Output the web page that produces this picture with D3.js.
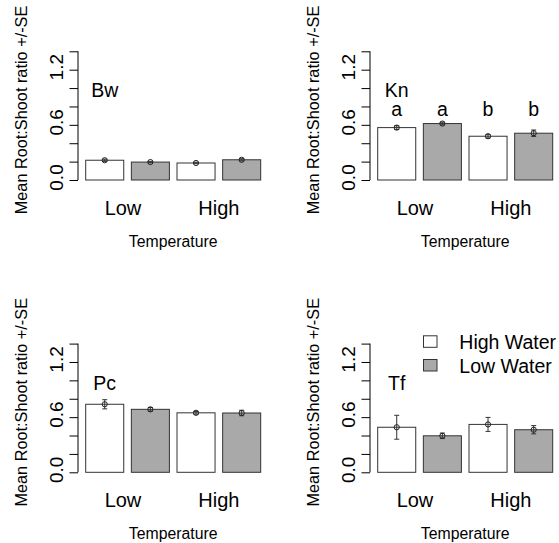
<!DOCTYPE html>
<html>
<head>
<meta charset="utf-8">
<script src="https://cdn.jsdelivr.net/npm/d3@7"></script>
<style>
    body { margin: 0; background: #fff; }
    svg { font-family: "Liberation Sans", Arial, sans-serif; }
    .y-axis path, .y-axis line { stroke: #000; }
    .bar { stroke: #333; stroke-width: 1; }
    .err { stroke: #333; stroke-width: 1; fill: none; }
</style>
</head>
<body>
<svg id="chart" width="559" height="543"></svg>
<script>
// Data
var species = ["Bw", "Kn", "Pc", "Tf"];
var tempLevels = ["Low", "High"];
var tempLabelAt = [1.18, 3.7];          // bar units, as in barplot
var waterLevels = ["High Water", "Low Water"];

var bwMeans = [0.215, 0.195, 0.185, 0.22];
var bwSE    = [0.012, 0.008, 0.008, 0.012];
var knMeans = [0.57, 0.614, 0.476, 0.509];
var knSE    = [0.02, 0.015, 0.02, 0.035];
var pcMeans = [0.74, 0.685, 0.647, 0.645];
var pcSE    = [0.05, 0.02, 0.015, 0.03];
var tfMeans = [0.49, 0.397, 0.521, 0.463];
var tfSE    = [0.13, 0.03, 0.076, 0.045];

var knLetters = ["a", "a", "b", "b"];

var yTicks = [0, 0.2, 0.4, 0.6, 0.8, 1.0, 1.2, 1.4];
var yTickLabels = ["0.0", "", "", "0.6", "", "", "1.2", ""];

// Layout
var panel_dx = 292;
var panel_dy = 292.3;
var axis_x = 78;
var plot_top = 51.3;
var plot_bot = 180;
var bars_left = 85.7;
var bars_right = 260.7;

var fills = ["#ffffff", "#a9a9a9"];

var svg = d3.select("#chart");

var y = d3.scaleLinear().domain([0, 1.4]).range([plot_bot, plot_top]);
// R barplot units: bars of width 1 with 0.2 space
var xu = d3.scaleLinear().domain([0.2, 4.8]).range([bars_left, bars_right]);
var x = d3.scaleBand()
    .domain([0, 1, 2, 3])
    .range([bars_left, bars_right])
    .paddingInner(0.2 / 1.2)
    .paddingOuter(0);

var panels = [
    {name: species[0], means: bwMeans, se: bwSE, letters: null},
    {name: species[1], means: knMeans, se: knSE, letters: knLetters},
    {name: species[2], means: pcMeans, se: pcSE, letters: null},
    {name: species[3], means: tfMeans, se: tfSE, letters: null}
];

/**
 * Draws one bar panel.
 *
 * @param p    the panel data
 * @param idx  position in the 2x2 grid
 */
function drawPanel(p, idx)
{
    var g = svg.append("g")
        .attr("transform", "translate(" + (idx % 2) * panel_dx + "," + Math.floor(idx / 2) * panel_dy + ")");

    var rows = p.means.map((m, i) => ({m: m, se: p.se[i], i: i}));

    // Bars
    g.selectAll(".bar")
        .data(rows)
        .enter()
        .append("rect")
        .attr("class", "bar")
        .attr("x", d => x(d.i))
        .attr("width", x.bandwidth())
        .attr("y", d => y(d.m))
        .attr("height", d => y(0) - y(d.m))
        .attr("fill", d => fills[d.i % 2]);

    // Error bars
    var cap = 2.5;
    var e = g.selectAll(".errg").data(rows).enter().append("g").attr("class", "err");
    var cx = d => x(d.i) + x.bandwidth() / 2;
    e.append("line")
        .attr("x1", cx).attr("x2", cx)
        .attr("y1", d => y(d.m - d.se)).attr("y2", d => y(d.m + d.se));
    e.append("line")
        .attr("x1", d => cx(d) - cap).attr("x2", d => cx(d) + cap)
        .attr("y1", d => y(d.m + d.se)).attr("y2", d => y(d.m + d.se));
    e.append("line")
        .attr("x1", d => cx(d) - cap).attr("x2", d => cx(d) + cap)
        .attr("y1", d => y(d.m - d.se)).attr("y2", d => y(d.m - d.se));
    e.append("circle")
        .attr("cx", cx)
        .attr("cy", d => y(d.m))
        .attr("r", 2.6)
        .attr("stroke", "#222");

    // Y axis
    var ax = g.append("g")
        .attr("class", "y-axis")
        .attr("transform", "translate(" + axis_x + ",0)")
        .call(d3.axisLeft(y)
            .tickValues(yTicks)
            .tickSize(8.5)
            .tickSizeOuter(0)
            .tickFormat((d, i) => yTickLabels[i]));
    ax.select(".domain").attr("d", "M0," + y(0) + "V" + y(1.4));
    ax.selectAll("text")
        .attr("x", null)
        .attr("dy", null)
        .attr("fill", "#000")
        .attr("font-size", 19)
        .attr("font-family", null)
        .attr("text-anchor", "middle")
        .attr("transform", "translate(-15,-3) rotate(-90)");

    g.append("text")
        .attr("transform", "translate(27,110) rotate(-90)")
        .attr("text-anchor", "middle")
        .attr("font-size", 16.3)
        .text("Mean Root:Shoot ratio +/-SE");

    // Temperature labels
    g.selectAll(".temp")
        .data(tempLevels)
        .enter()
        .append("text")
        .attr("x", (d, i) => xu(tempLabelAt[i]))
        .attr("y", 215)
        .attr("text-anchor", "middle")
        .attr("font-size", 20)
        .text(d => d);

    g.append("text")
        .attr("x", (bars_left + bars_right) / 2)
        .attr("y", 247)
        .attr("text-anchor", "middle")
        .attr("font-size", 15.8)
        .text("Temperature");

    // Species label over the first bar
    g.append("text")
        .attr("x", xu(0.7))
        .attr("y", y(0.9))
        .attr("text-anchor", "middle")
        .attr("font-size", 19.5)
        .text(p.name);

    if (p.letters)
    {
        g.selectAll(".letter")
            .data(p.letters)
            .enter()
            .append("text")
            .attr("x", (d, i) => x(i) + x.bandwidth() / 2)
            .attr("y", y(0.7))
            .attr("text-anchor", "middle")
            .attr("font-size", 19.5)
            .text(d => d);
    }
    return g;
}

var groups = panels.map(drawPanel);

// Legend in the last panel
var leg = groups[3].append("g");
leg.selectAll("rect")
    .data(waterLevels)
    .enter()
    .append("rect")
    .attr("class", "bar")
    .attr("x", 131.5)
    .attr("y", (d, i) => 43.5 + i * 23.7)
    .attr("width", 13.5)
    .attr("height", 11.5)
    .attr("fill", (d, i) => fills[i]);
leg.selectAll("text")
    .data(waterLevels)
    .enter()
    .append("text")
    .attr("x", 167.3)
    .attr("y", (d, i) => 56.7 + i * 23.7)
    .attr("font-size", 19.5)
    .text(d => d);
</script>
</body>
</html>
